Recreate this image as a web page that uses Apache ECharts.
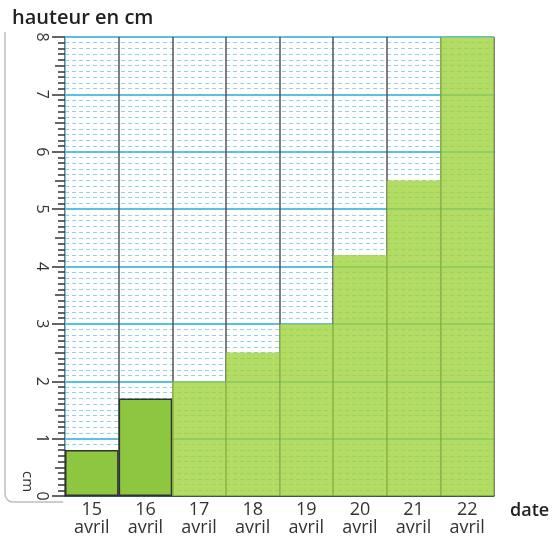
<!DOCTYPE html>
<html>
<head>
<meta charset="utf-8">
<script src="https://cdn.jsdelivr.net/npm/echarts@6/dist/echarts.min.js"></script>
<style>
html,body{margin:0;padding:0;background:#fff;}
#c{width:553px;height:542px;}
</style>
</head>
<body>
<div id="c"></div>
<script>
// Data
var days = ['15', '16', '17', '18', '19', '20', '21', '22'];
var month = 'avril';
var heights = [0.8, 1.7, 2.0, 2.5, 3.0, 4.2, 5.5, 8.0];
var yMin = 0, yMax = 8, yStep = 1;
var titleText = 'hauteur en cm';
var xName = 'date';
var unitText = 'cm';

var FONT = '"Open Sans", "Noto Sans", sans-serif';
var solidStyle = { color: '#8dc63f', borderColor: '#333', borderWidth: 1.5 };
var crayonStyle = { color: 'rgba(158,210,58,0.78)', borderWidth: 0 };
var rulerStroke = { stroke: '#bdbdbd', lineWidth: 1.5, fill: null };

var chart = echarts.init(document.getElementById('c'), null, { renderer: 'canvas' });
chart.setOption({
  animation: false,
  backgroundColor: '#fff',
  title: {
    text: titleText, left: 7, top: 3,
    textStyle: { fontFamily: FONT, fontSize: 20, fontWeight: 600, color: '#222' }
  },
  grid: { left: 65, right: 59, top: 37, bottom: 46, containLabel: false },
  graphic: [
    { type: 'line', silent: true, z: -1, shape: { x1: 5, y1: 32, x2: 5, y2: 494 }, style: rulerStroke },
    { type: 'arc', silent: true, z: -1, shape: { cx: 13, cy: 494, r: 8, startAngle: Math.PI / 2, endAngle: Math.PI, clockwise: true }, style: rulerStroke },
    { type: 'line', silent: true, z: -1, shape: { x1: 13, y1: 502, x2: 63, y2: 502 }, style: rulerStroke },
    { type: 'text', silent: true, x: 35, y: 471, rotation: -Math.PI / 2,
      style: { text: unitText, fontFamily: 'Open Sans', fontSize: 15, fill: '#333' } }
  ],
  xAxis: {
    type: 'category',
    data: days.map(function (d) { return d + '\n' + month; }),
    boundaryGap: true,
    axisLine: { show: true, lineStyle: { color: '#333', width: 1.5 } },
    axisTick: { show: false },
    axisLabel: { fontFamily: FONT, fontSize: 18, color: '#333', lineHeight: 18, margin: 5 },
    splitLine: { show: true, lineStyle: { color: '#555', width: 1.5 } },
    name: xName, nameLocation: 'end', nameGap: 16,
    nameTextStyle: { fontFamily: FONT, fontSize: 18, fontWeight: 600, color: '#222',
      align: 'left', verticalAlign: 'top', padding: [6, 0, 0, 0] }
  },
  yAxis: [
    {
      type: 'value', min: yMin, max: yMax, interval: yStep, position: 'left',
      axisLine: { show: true, lineStyle: { color: '#6cc6e4', width: 1 } },
      axisTick: { show: true, length: 13, lineStyle: { color: '#333', width: 1.5 } },
      minorTick: { show: true, splitNumber: 10, length: 7, lineStyle: { color: '#333', width: 1.5 } },
      axisLabel: { rotate: -90, margin: 15, fontFamily: FONT, fontSize: 16, color: '#333' },
      splitLine: { show: true, lineStyle: { color: '#5bc0e2', width: 2 } },
      minorSplitLine: { show: true, lineStyle: { color: '#8fd2ea', width: 1, type: [4, 3] } }
    },
    {
      type: 'value', min: yMin, max: yMax, interval: yStep / 2, position: 'left',
      axisLine: { show: false },
      axisTick: { show: true, length: 10, lineStyle: { color: '#333', width: 1.5 } },
      axisLabel: { show: false },
      splitLine: { show: false }
    }
  ],
  series: [{
    type: 'bar',
    yAxisIndex: 0,
    barCategoryGap: '0%',
    data: heights.map(function (v, i) {
      return { value: v, itemStyle: i < 2 ? solidStyle : crayonStyle };
    })
  }]
});
</script>
</body>
</html>
